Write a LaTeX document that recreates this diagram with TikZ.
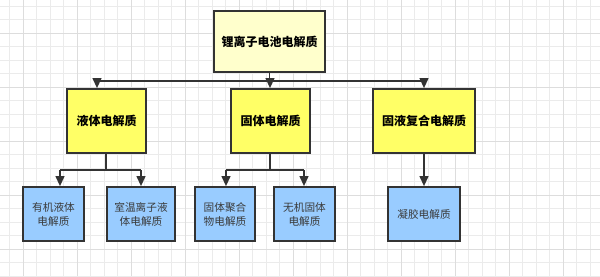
\documentclass[tikz,border=0pt]{standalone}
\usepackage{fontspec}
\setmainfont{Noto Sans CJK SC}
\usetikzlibrary{arrows.meta}
\definecolor{lineC}{HTML}{333333}
\definecolor{topfill}{HTML}{FFFFCC}
\definecolor{midfill}{HTML}{FFFF66}
\definecolor{botfill}{HTML}{99CCFF}
\definecolor{gridminor}{HTML}{EBEBEB}
\definecolor{gridmajor}{HTML}{DDDDDD}
\definecolor{bottext}{HTML}{3A3A3A}
\tikzset{
  boxbase/.style={draw=lineC, line width=1.2pt, inner sep=1pt, align=center},
  topbox/.style={boxbase, fill=topfill, font=\fontsize{9}{11}\selectfont\bfseries},
  midbox/.style={boxbase, fill=midfill, minimum height=48pt, font=\fontsize{9}{11}\selectfont\bfseries},
  botbox/.style={boxbase, fill=botfill, minimum height=40.5pt, text=bottext, font=\fontsize{8}{10.5}\selectfont},
  conn/.style={draw=lineC, line width=1.4pt},
  arr/.style={conn, -{Triangle[length=7.5pt, width=6.5pt]}},
}
\begin{document}
\begin{tikzpicture}[x=0.75pt, y=-0.75pt]
\useasboundingbox (0,0) rectangle (600,276);
\fill[white] (0,0) rectangle (600,276);
% background grid
\foreach \i in {0,...,44} {
  \draw[gridminor, line width=0.4pt] ({9.5+13.5*\i},0) -- ({9.5+13.5*\i},276);
}
\foreach \i in {0,...,20} {
  \draw[gridminor, line width=0.4pt] (0,{6+13.5*\i}) -- (600,{6+13.5*\i});
}
\foreach \i in {0,...,11} {
  \draw[gridmajor, line width=0.5pt] ({23+54*\i},0) -- ({23+54*\i},276);
}
\foreach \i in {0,...,5} {
  \draw[gridmajor, line width=0.5pt] (0,{33+54*\i}) -- (600,{33+54*\i});
}

% nodes
\node[topbox, minimum width=83.25pt, minimum height=45.75pt] (root) at (269.5,41.5) {锂离子电池电解质};
\node[midbox, minimum width=59.25pt] (liquid) at (106.5,121) {液体电解质};
\node[midbox, minimum width=59.25pt] (solid) at (270.5,121) {固体电解质};
\node[midbox, minimum width=76.5pt] (hybrid) at (424,121) {固液复合电解质};
\node[botbox, minimum width=45.75pt] (organic) at (53.5,214) {有机液体\\电解质};
\node[botbox, minimum width=51pt] (ionic) at (141,214) {室温离子液\\体电解质};
\node[botbox, minimum width=45pt] (polymer) at (225,214) {固体聚合\\物电解质};
\node[botbox, minimum width=45.75pt] (inorganic) at (304.5,214) {无机固体\\电解质};
\node[botbox, minimum width=54pt] (gel) at (424,214) {凝胶电解质};

% junction coordinates
\coordinate (jr) at (270,81);
\coordinate (jrl) at (97,81);
\coordinate (jrr) at (424,81);
\coordinate (jl) at (106,170);
\coordinate (jll) at (60,170);
\coordinate (jlr) at (141,170);
\coordinate (js) at (270,170);
\coordinate (jsl) at (226,170);
\coordinate (jsr) at (304,170);

% top level connectors
\draw[conn] (root.south) -- (root.south |- jr);
\draw[conn] (jrl) -- (jrr);
\draw[arr] (jrl) -- (jrl |- liquid.north);
\draw[arr] (jr) -- (jr |- solid.north);
\draw[arr] (jrr) -- (jrr |- hybrid.north);

% liquid branch
\draw[conn] (jl |- liquid.south) -- (jl);
\draw[conn] (jll) -- (jlr);
\draw[arr] (jll) -- (jll |- organic.north);
\draw[arr] (jlr) -- (jlr |- ionic.north);

% solid branch
\draw[conn] (js |- solid.south) -- (js);
\draw[conn] (jsl) -- (jsr);
\draw[arr] (jsl) -- (jsl |- polymer.north);
\draw[arr] (jsr) -- (jsr |- inorganic.north);

% hybrid branch
\draw[arr] (hybrid.south) -- (gel.north);
\end{tikzpicture}
\end{document}
